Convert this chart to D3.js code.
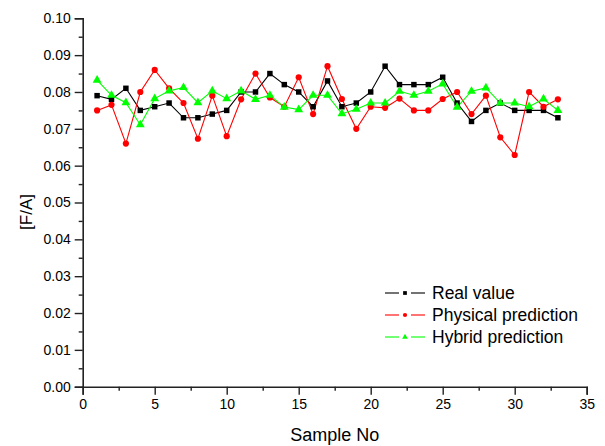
<!DOCTYPE html>
<html>
<head>
<meta charset="utf-8">
<script src="https://cdn.jsdelivr.net/npm/d3@7"></script>
<style>
  body { margin: 0; background: #fff; }
  text { font-family: Arial, "Liberation Sans", sans-serif; fill: #000; }
</style>
</head>
<body>
<script>
const width = 605, height = 446;
const margin = {top: 18.3, right: 18.3, bottom: 59.3, left: 82.7};

// data
const sampleNo = [1, 2, 3, 4, 5, 6, 7, 8, 9, 10, 11, 12, 13, 14, 15, 16, 17,
    18, 19, 20, 21, 22, 23, 24, 25, 26, 27, 28, 29, 30, 31, 32, 33];
const realValue = [0.079, 0.078, 0.081, 0.075, 0.076, 0.077, 0.073, 0.073, 0.074, 0.075, 0.080,
    0.080, 0.085, 0.082, 0.080, 0.076, 0.083, 0.076, 0.077, 0.080, 0.087, 0.082,
    0.082, 0.082, 0.084, 0.077, 0.072, 0.075, 0.077, 0.075, 0.075, 0.075, 0.073];
const physicalPrediction = [0.075, 0.0765, 0.066, 0.080, 0.086, 0.081, 0.077, 0.0673, 0.079, 0.068, 0.078,
    0.085, 0.0785, 0.076, 0.084, 0.074, 0.087, 0.0781, 0.070, 0.076, 0.0757, 0.0782,
    0.075, 0.075, 0.0781, 0.080, 0.074, 0.079, 0.0677, 0.0629, 0.080, 0.076, 0.078];
const hybridPrediction = [0.0832, 0.0791, 0.0771, 0.0711, 0.0782, 0.0803, 0.0812, 0.0771, 0.0803, 0.0782, 0.0803,
    0.078, 0.0791, 0.0759, 0.0752, 0.0791, 0.0791, 0.0741, 0.0753, 0.077, 0.077, 0.0802,
    0.0791, 0.0802, 0.0822, 0.0759, 0.0802, 0.0811, 0.077, 0.077, 0.076, 0.0781, 0.075];

const xTicks = [0, 5, 10, 15, 20, 25, 30, 35];
const xMinorTicks = [2.5, 7.5, 12.5, 17.5, 22.5, 27.5, 32.5];
const yTicks = [0, 0.01, 0.02, 0.03, 0.04, 0.05, 0.06, 0.07, 0.08, 0.09, 0.10];
const yMinorTicks = [0.005, 0.015, 0.025, 0.035, 0.045, 0.055, 0.065, 0.075, 0.085, 0.095];

const seriesNames = ['Real value', 'Physical prediction', 'Hybrid prediction'];
const seriesValues = [realValue, physicalPrediction, hybridPrediction];
const seriesColors = ['#000000', '#ff0000', '#00ff00'];
const seriesSymbols = [d3.symbolSquare, d3.symbolCircle, d3.symbolTriangle];

const svg = d3.select('body').append('svg').attr('width', width).attr('height', height);

const x = d3.scaleLinear().domain([0, 35]).range([margin.left, width - margin.right]);
const y = d3.scaleLinear().domain([0, 0.10]).range([height - margin.bottom, margin.top]);

// axes
const xAxis = svg.append('g')
    .attr('transform', `translate(0,${height - margin.bottom})`)
    .call(d3.axisBottom(x).tickValues(xTicks).tickSize(8).tickPadding(4).tickFormat(d3.format('d')));
svg.append('g')
    .attr('transform', `translate(0,${height - margin.bottom})`)
    .call(d3.axisBottom(x).tickValues(xMinorTicks).tickSize(4).tickFormat(''))
    .select('.domain').remove();

const yAxis = svg.append('g')
    .attr('transform', `translate(${margin.left},0)`)
    .call(d3.axisLeft(y).tickValues(yTicks).tickSize(8).tickPadding(4).tickFormat(d3.format('.2f')));
svg.append('g')
    .attr('transform', `translate(${margin.left},0)`)
    .call(d3.axisLeft(y).tickValues(yMinorTicks).tickSize(4).tickFormat(''))
    .select('.domain').remove();

svg.selectAll('.domain').attr('stroke', '#222').attr('stroke-width', 1.6);
svg.selectAll('.tick line').attr('stroke', '#222').attr('stroke-width', 1.4);
svg.selectAll('.tick text')
    .style('font-family', 'Arial, "Liberation Sans", sans-serif')
    .style('font-size', '14px')
    .attr('fill', '#000');

// axis titles
svg.append('text')
    .attr('x', (margin.left + width - margin.right) / 2)
    .attr('y', 441)
    .attr('text-anchor', 'middle')
    .style('font-size', '18px')
    .text('Sample No');

svg.append('text')
    .attr('transform', 'translate(32,212) rotate(-90)')
    .attr('text-anchor', 'middle')
    .style('font-size', '17px')
    .text('[F/A]');

// series
const line = d3.line().x((d, i) => x(sampleNo[i])).y(d => y(d));

seriesValues.forEach((vals, s) => {
    svg.append('path')
        .datum(vals)
        .attr('fill', 'none')
        .attr('stroke', seriesColors[s])
        .attr('stroke-width', 1.1)
        .attr('d', line);
});

seriesValues.forEach((vals, s) => {
    const size = s === 2 ? 34 : (s === 1 ? 30 : 30);
    svg.selectAll(null)
        .data(vals)
        .enter().append('path')
        .attr('transform', (d, i) => `translate(${x(sampleNo[i])},${y(d)})`)
        .attr('d', d3.symbol().type(seriesSymbols[s]).size(size))
        .attr('fill', seriesColors[s]);
});

// legend
const legend = svg.append('g').attr('transform', 'translate(385,293)');
seriesNames.forEach((name, s) => {
    const g = legend.append('g').attr('transform', `translate(0,${s * 22})`);
    g.append('line').attr('x1', 0).attr('x2', 14).attr('y1', 0).attr('y2', 0)
        .attr('stroke', seriesColors[s]).attr('stroke-width', 1.1);
    g.append('line').attr('x1', 26).attr('x2', 40).attr('y1', 0).attr('y2', 0)
        .attr('stroke', seriesColors[s]).attr('stroke-width', 1.1);
    g.append('path')
        .attr('transform', 'translate(20,0)')
        .attr('d', d3.symbol().type(seriesSymbols[s]).size(14))
        .attr('fill', seriesColors[s]);
    g.append('text')
        .attr('x', 47)
        .attr('y', 0)
        .attr('dy', '0.35em')
        .style('font-size', '17.5px')
        .text(name);
});
</script>
</body>
</html>
